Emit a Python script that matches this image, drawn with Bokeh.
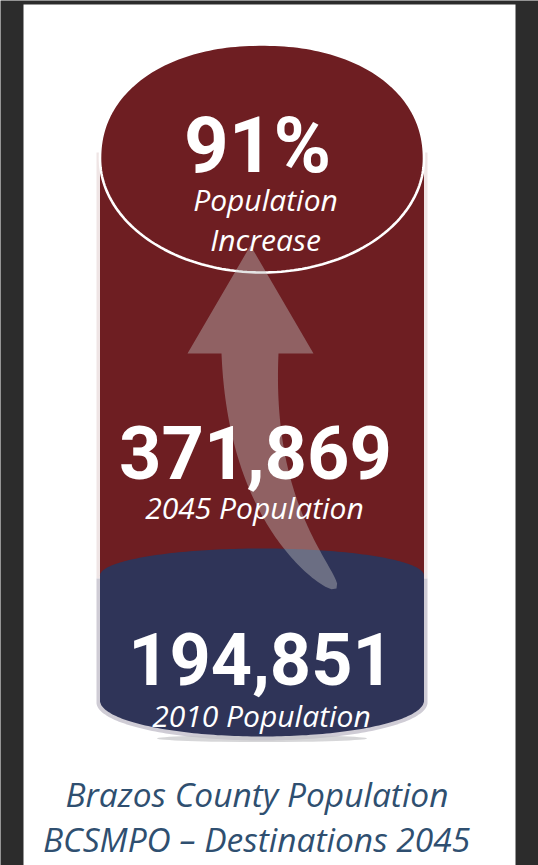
import numpy as np
from bokeh.plotting import figure
from bokeh.models import Range1d
from bokeh.embed import file_html
from bokeh.resources import INLINE
from bokeh.core.properties import value

# ---------------- data ----------------
years = [2010, 2045]
populations = [194851, 371869]
pop_labels = [f"{y} Population" for y in years]
pop_numbers = [f"{v:,}" for v in populations]
increase_pct = round((populations[1] / populations[0] - 1) * 100)
increase_label = f"{increase_pct}%"
increase_words = ["Population", "Increase"]
caption_lines = ["Brazos County Population", "BCSMPO \u2013 Destinations 2045"]

# ---------------- style ----------------
RED = "#6e1e22"
NAVY = "#2f3458"
DARK = "#2c2c2c"
CAPTION = "#2f4f70"
NUM_FONT = value("Roboto")
LBL_FONT = value("Open Sans")

p = figure(width=538, height=865, x_range=Range1d(0, 538), y_range=Range1d(865, 0),
           output_backend="svg", toolbar_location=None, min_border=0)
p.axis.visible = False
p.grid.visible = False
p.outline_line_color = None
p.background_fill_color = DARK
p.border_fill_color = DARK

# white panel
p.quad(left=23, right=515, top=4, bottom=870, fill_color="white", line_color=None)

cx, a = 261.5, 162.0


def half_arc(cy, b, upper, n=2.0, num=120, aa=a):
    th = np.linspace(0, np.pi, num) if upper else np.linspace(np.pi, 2 * np.pi, num)
    c, s = np.cos(th), np.sin(th)
    xs = cx + aa * np.sign(c) * np.abs(c) ** (2.0 / n)
    ys = cy - b * np.sign(s) * np.abs(s) ** (2.0 / n)
    return list(xs), list(ys)


# light side rims of the cylinder
p.quad(left=96, right=427, top=152, bottom=578, fill_color="#efe5e5", line_color=None)
bx, by = half_arc(702, 38, upper=False, aa=a + 3.5)
p.patch([96] + bx + [427], [578] + by + [578], fill_color="#cfccd5", line_color=None)
# soft shadow under the base
p.ellipse(x=cx, y=738, width=210, height=7, fill_color="#c4c4c8", fill_alpha=0.7, line_color=None)

# red body
p.quad(left=cx - a, right=cx + a, top=158, bottom=580, fill_color=RED, line_color=None)

# navy base
ux, uy = half_arc(575, 27, upper=True)
lx, ly = half_arc(700, 36, upper=False)
p.patch(ux + lx, uy + ly, fill_color=NAVY, line_color=None)

# top cap with white rim
tx, ty = half_arc(158, 114, upper=True, n=2.15)
kx, ky = half_arc(158, 114, upper=False)
p.patch(tx + kx, ty + ky, fill_color=RED, line_color="white", line_width=2.6)

# curved translucent arrow
P0 = np.array([249.5, 353.0])
P1 = np.array([249.5, 505.0])
P2 = np.array([336.0, 588.0])
t = np.linspace(0, 1, 80)[:, None]
B = (1 - t) ** 2 * P0 + 2 * t * (1 - t) * P1 + t ** 2 * P2
D = 2 * (1 - t) * (P1 - P0) + 2 * t * (P2 - P1)
D = D / np.linalg.norm(D, axis=1)[:, None]
N = np.hstack([-D[:, 1:2], D[:, 0:1]])
w = 28.5 * (1 - t[:, 0]) ** 0.45
E1 = B + N * w[:, None]
E2 = B - N * w[:, None]
if E1[0, 0] > E2[0, 0]:
    right, left = E1, E2
else:
    right, left = E2, E1
ax = [250.0, 313.0] + list(right[:, 0]) + list(left[::-1, 0]) + [187.0]
ay = [245.0, 353.0] + list(right[:, 1]) + list(left[::-1, 1]) + [353.0]
p.patch(ax, ay, fill_color="#bebebe", fill_alpha=0.42, line_color=None)

# texts
p.text(x=[257], y=[145], text=[increase_label], text_font=NUM_FONT, text_font_style="bold",
       text_font_size="78px", text_color="white", text_align="center", text_baseline="alphabetic")
p.text(x=[265, 265], y=[199, 239], text=increase_words, text_font=LBL_FONT, text_font_style="italic",
       text_font_size="30px", text_color="white", text_align="center", text_baseline="alphabetic")

p.text(x=[255], y=[452], text=[pop_numbers[1]], text_font=NUM_FONT, text_font_style="bold",
       text_font_size="74px", text_color="white", text_align="center", text_baseline="alphabetic")
p.text(x=[254], y=[507], text=[pop_labels[1]], text_font=LBL_FONT, text_font_style="italic",
       text_font_size="30px", text_color="white", text_align="center", text_baseline="alphabetic")

p.text(x=[260.5], y=[658], text=[pop_numbers[0]], text_font=NUM_FONT, text_font_style="bold",
       text_font_size="72px", text_color="white", text_align="center", text_baseline="alphabetic")
p.text(x=[261], y=[715], text=[pop_labels[0]], text_font=LBL_FONT, text_font_style="italic",
       text_font_size="30px", text_color="white", text_align="center", text_baseline="alphabetic")

p.text(x=[256.5, 256], y=[793, 838], text=caption_lines, text_font=LBL_FONT, text_font_style="italic",
       text_font_size="33.5px", text_color=CAPTION, text_align="center", text_baseline="alphabetic")

open("out.html", "w").write(file_html(p, INLINE))
